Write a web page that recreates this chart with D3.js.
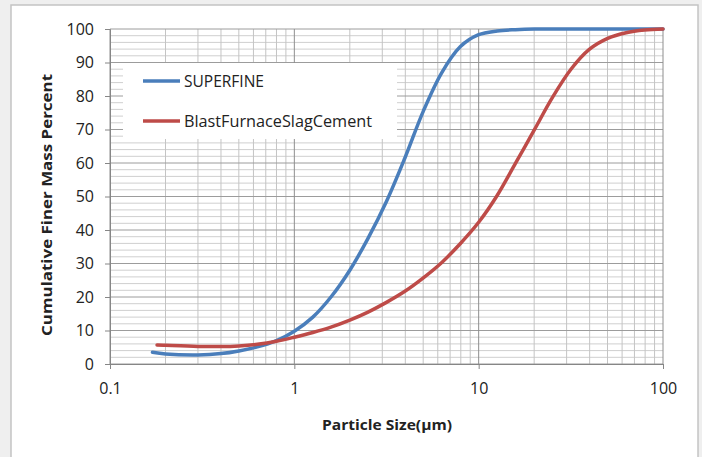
<!DOCTYPE html>
<html><head><meta charset="utf-8">
<script src="https://cdn.jsdelivr.net/npm/d3@7"></script>
<style>
html,body{margin:0;padding:0;background:#efefef;}
svg{display:block;}
text{font-family:"Open Sans","Noto Sans",sans-serif;fill:#222;}
</style></head>
<body>
<svg id="c" width="702" height="457"></svg>
<script>
// ---- data ----
const seriesNames = ["SUPERFINE", "BlastFurnaceSlagCement"];
const superfineSize = [0.17,0.2,0.3,0.4,0.5,0.63,0.8,1.0,1.26,1.58,2.0,2.51,3.16,3.98,5.01,6.31,7.94,10,12.6,15.8,20,50,100];
const superfinePct  = [3.5,3.0,2.7,3.1,3.9,5.1,7.0,9.8,14,20,28,37.5,48.5,61.5,75.5,87,94.7,98.3,99.4,99.8,100,100,100];
const slagSize = [0.18,0.2,0.3,0.4,0.5,0.63,0.8,1.0,1.26,1.58,2.0,2.51,3.16,3.98,5.01,6.31,7.94,10,12.6,15.8,20,25.1,31.6,39.8,50.1,63.1,79.4,100];
const slagPct  = [5.7,5.6,5.25,5.2,5.4,5.9,6.8,8.0,9.4,11.0,13.1,15.5,18.4,21.7,25.7,30.3,35.9,42.3,50.3,59.8,69.8,79.5,87.9,93.9,97.2,98.9,99.7,100];
const xTicks = [0.1, 1, 10, 100];
const xTickLabels = ["0.1", "1", "10", "100"];
const yTicks = [0,10,20,30,40,50,60,70,80,90,100];
const colors = ["#4a7ebb", "#be4b48"];

const svg = d3.select("#c");
// outer frame
svg.append("rect").attr("x",11).attr("y",5).attr("width",687).attr("height",470)
  .attr("fill","#fff").attr("stroke","#c4c4c4").attr("stroke-width",1.5);

const x = d3.scaleLog().domain([0.1,100]).range([110,663]);
const y = d3.scaleLinear().domain([0,100]).range([364,29]);

const g = svg.append("g");
// minor horizontal
const yMinor = d3.range(0,101,2).filter(v=>v%10!==0);
g.selectAll(".hm").data(yMinor).join("line")
  .attr("x1",x(0.1)).attr("x2",x(100)).attr("y1",d=>y(d)).attr("y2",d=>y(d))
  .attr("stroke","#cfcfcf").attr("stroke-width",1);
// minor vertical
const xMinor = [];
[0.1,1,10].forEach(k=>{for(let m=2;m<=9;m++) xMinor.push(k*m);});
g.selectAll(".vm").data(xMinor).join("line")
  .attr("x1",d=>x(d)).attr("x2",d=>x(d)).attr("y1",y(0)).attr("y2",y(100))
  .attr("stroke","#c4c4c4").attr("stroke-width",1);
// major horizontal
g.selectAll(".hM").data(yTicks).join("line")
  .attr("x1",x(0.1)).attr("x2",x(100)).attr("y1",d=>y(d)).attr("y2",d=>y(d))
  .attr("stroke","#9c9c9c").attr("stroke-width",1);
// major vertical
g.selectAll(".vM").data(xTicks).join("line")
  .attr("x1",d=>x(d)).attr("x2",d=>x(d)).attr("y1",y(0)).attr("y2",y(100))
  .attr("stroke","#8e8e8e").attr("stroke-width",1);

// axes
const yAxis = d3.axisLeft(y).tickValues(yTicks).tickSize(5).tickPadding(11);
const ya = svg.append("g").attr("transform",`translate(${x(0.1)},0)`).call(yAxis);
ya.select(".domain").attr("stroke","#868686");
ya.selectAll(".tick line").attr("stroke","#868686");
ya.selectAll(".tick text").attr("font-size","16px").attr("fill","#222")
  .attr("font-family","'Open Sans',sans-serif");

const xAxis = d3.axisBottom(x).tickValues(xTicks).tickFormat((d,i)=>xTickLabels[i]).tickSize(5).tickPadding(14);
const xa = svg.append("g").attr("transform",`translate(0,${y(0)})`).call(xAxis);
xa.select(".domain").attr("stroke","#868686");
xa.selectAll(".tick line").attr("stroke","#868686");
xa.selectAll(".tick text").attr("font-size","16px").attr("fill","#222")
  .attr("font-family","'Open Sans',sans-serif");

// axis titles
svg.append("text").attr("x",387).attr("y",430).attr("text-anchor","middle")
  .attr("font-size","14.5px").attr("font-weight","bold")
  .attr("textLength",130).attr("lengthAdjust","spacingAndGlyphs")
  .text("Particle Size(µm)");
svg.append("text").attr("transform","translate(52,205) rotate(-90)").attr("text-anchor","middle")
  .attr("font-size","14.5px").attr("font-weight","bold")
  .attr("textLength",262).attr("lengthAdjust","spacingAndGlyphs")
  .text("Cumulative Finer Mass Percent");

// lines
const line = d3.line().x(d=>x(d[0])).y(d=>y(d[1])).curve(d3.curveCatmullRom.alpha(0.5));
const seriesData = [
  d3.zip(superfineSize, superfinePct),
  d3.zip(slagSize, slagPct)
];
seriesData.forEach((d,i)=>{
  svg.append("path").datum(d).attr("d",line).attr("fill","none")
    .attr("stroke",colors[i]).attr("stroke-width",3.5).attr("stroke-linecap","round");
});

// legend
const lg = svg.append("g");
lg.append("rect").attr("x",123).attr("y",63).attr("width",274).attr("height",76).attr("fill","#fff");
const ly = [81,121];
const lw = [80,188];
seriesNames.forEach((n,i)=>{
  lg.append("line").attr("x1",143).attr("x2",180).attr("y1",ly[i]).attr("y2",ly[i])
    .attr("stroke",colors[i]).attr("stroke-width",3.5);
  lg.append("text").attr("x",184).attr("y",ly[i]+6).attr("font-size","16px")
    .attr("textLength",lw[i]).attr("lengthAdjust","spacingAndGlyphs").text(n);
});
</script>
</body></html>
